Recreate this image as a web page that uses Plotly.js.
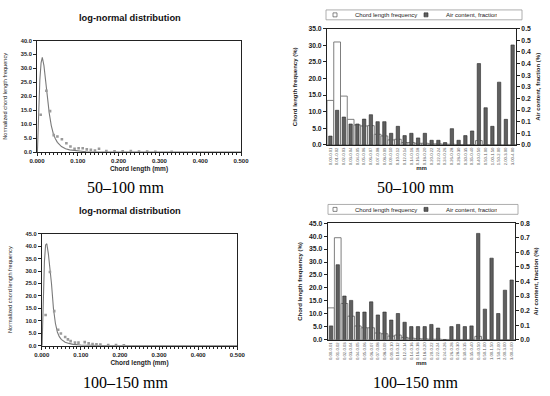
<!DOCTYPE html>
<html><head><meta charset="utf-8">
<script src="https://cdn.plot.ly/plotly-3.0.1.min.js"></script>
<style>html,body{margin:0;padding:0;background:#fff}</style>
</head><body><div id="chart" style="width:550px;height:396px"></div>
<script>
// ---- data ----
const categories = ["0.00-0.01","0.01-0.02","0.02-0.03","0.03-0.04","0.04-0.05","0.05-0.06","0.06-0.07","0.07-0.08","0.08-0.09","0.09-0.10","0.10-0.12","0.12-0.14","0.14-0.16","0.16-0.18","0.18-0.20","0.20-0.22","0.22-0.24","0.24-0.26","0.26-0.28","0.28-0.30","0.30-0.35","0.35-0.40","0.40-0.50","0.50-1.00","1.00-1.50","1.50-2.00","2.00-3.00","3.00-4.00"];
const chordFreq50_100 = [13.4,31.0,14.7,7.7,6.0,5.7,5.8,3.2,2.7,1.5,1.7,0.7,0.7,0.5,0.5,0.3,0.3,0.2,0.2,0.1,0.1,0.1,1.3,0.1,0,0,0,0];
const airContent50_100 = [0.038,0.149,0.12,0.09,0.09,0.111,0.13,0.10,0.10,0.05,0.08,0.04,0.05,0.03,0.05,0.02,0.02,0.01,0.07,0.02,0.04,0.06,0.35,0.16,0.08,0.27,0.11,0.43];
const chordFreq100_150 = [12.3,39.4,14.0,9.1,5.3,4.6,4.6,2.6,2.3,1.4,1.8,0.9,0.6,0.4,0.3,0.2,0.2,0.1,0.1,0.1,0.1,0.1,1.3,0.1,0,0,0,0];
const airContent100_150 = [0.095,0.515,0.30,0.27,0.19,0.19,0.26,0.17,0.19,0.135,0.18,0.12,0.09,0.09,0.09,0.105,0.08,0,0.09,0.105,0.09,0.095,0.73,0.21,0.56,0.18,0.34,0.41];

const fitX = [0.001,0.004,0.007,0.010,0.013,0.017,0.020,0.025,0.030,0.035,0.040,0.045,0.050,0.060,0.070,0.080,0.100,0.120,0.150,0.200,0.300,0.400,0.500];
const fit50_100 = [0,14,26,32,34,31,27,20,14,9.5,6.6,4.8,3.5,2.0,1.2,0.8,0.35,0.15,0.05,0,0,0,0];
const fit100_150 = [0,18,34,40.5,41,37,33,25,15,9,5.5,3.6,2.5,1.4,0.9,0.5,0.2,0.1,0.03,0,0,0,0];

const obsX50_100 = [0.009,0.023,0.032,0.041,0.050,0.061,0.072,0.082,0.092,0.102,0.112,0.122,0.132,0.142,0.152,0.17,0.19,0.21,0.23,0.25,0.27,0.29,0.33];
const obsY50_100 = [13.4,22.0,14.7,6.1,5.6,4.6,3.2,2.0,1.2,1.4,1.4,1.0,0.8,0.6,1.2,0.4,0.3,0.3,0.4,0.2,0.2,0.1,0.1];
const obsX100_150 = [0.010,0.021,0.032,0.042,0.049,0.060,0.067,0.074,0.085,0.094,0.110,0.120,0.130,0.140,0.150,0.170,0.190,0.210];
const obsY100_150 = [12.3,29.6,13.9,6.4,4.9,3.5,2.5,1.8,1.2,1.2,1.4,0.9,0.6,0.5,0.4,0.2,0.2,0.1];

const airTicks50_100 = [0,0.05,0.1,0.15,0.2,0.25,0.3,0.35,0.4,0.45,0.5];
const airTickText50_100 = ["0.0","0.1","0.1","0.2","0.2","0.3","0.3","0.4","0.4","0.5","0.5"];

// ---- styles ----
const F = "Liberation Sans, Arial, sans-serif";
const SERIF = "Liberation Serif, Times New Roman, serif";
const lineCol = "#222";
const fitStyle = {color:"#7a7a7a", width:1.1};
const obsStyle = {symbol:"square", size:2.6, color:"#9a9a9a"};
const whiteBar = {color:"#ffffff", line:{color:"#707070", width:0.9}};
const darkBar = {color:"#5f5f5f", line:{color:"#2a2a2a", width:0.6}};
const whiteKey = {symbol:"square", size:4, color:"#ffffff", line:{color:"#555", width:0.7}};
const darkKey = {symbol:"square", size:4, color:"#5f5f5f", line:{color:"#2a2a2a", width:0.6}};

const traces = [
  {x:fitX, y:fit50_100, type:"scatter", mode:"lines", line:fitStyle, xaxis:"x", yaxis:"y", showlegend:false, name:"log-normal fit"},
  {x:obsX50_100, y:obsY50_100, type:"scatter", mode:"markers", marker:obsStyle, xaxis:"x", yaxis:"y", showlegend:false, name:"measured"},
  {x:fitX, y:fit100_150, type:"scatter", mode:"lines", line:fitStyle, xaxis:"x2", yaxis:"y2", showlegend:false, name:"log-normal fit"},
  {x:obsX100_150, y:obsY100_150, type:"scatter", mode:"markers", marker:obsStyle, xaxis:"x2", yaxis:"y2", showlegend:false, name:"measured"},
  {x:categories, y:chordFreq50_100, type:"bar", width:1.0, marker:whiteBar, xaxis:"x3", yaxis:"y3", name:"Chord length frequency", showlegend:false},
  {x:categories, y:airContent50_100, type:"bar", width:0.5, marker:darkBar, xaxis:"x3", yaxis:"y4", name:"Air content, fraction", showlegend:false},
  {x:categories, y:chordFreq100_150, type:"bar", width:1.0, marker:whiteBar, xaxis:"x4", yaxis:"y5", name:"Chord length frequency", showlegend:false},
  {x:categories, y:airContent100_150, type:"bar", width:0.5, marker:darkBar, xaxis:"x4", yaxis:"y6", name:"Air content, fraction", showlegend:false},
  // legend keys (small square symbols, like the original)
  {x:[null], y:[null], type:"scatter", mode:"markers", marker:whiteKey, xaxis:"x3", yaxis:"y3", name:"Chord length frequency", legend:"legend"},
  {x:[null], y:[null], type:"scatter", mode:"markers", marker:darkKey, xaxis:"x3", yaxis:"y4", name:"Air content, fraction", legend:"legend"},
  {x:[null], y:[null], type:"scatter", mode:"markers", marker:whiteKey, xaxis:"x4", yaxis:"y5", name:"Chord length frequency", legend:"legend2"},
  {x:[null], y:[null], type:"scatter", mode:"markers", marker:darkKey, xaxis:"x4", yaxis:"y6", name:"Air content, fraction", legend:"legend2"}
];

const W = 550, H = 396;
const dx = (a,b)=>[a/W, b/W];
const dy = (top,bot)=>[1-bot/H, 1-top/H];

const tickFontB = (s)=>({family:F, size:s, color:"#222", weight:"bold"});
const titleFont = (s, b)=>({family:F, size:s, color:"#222", weight: b ? "bold" : "normal"});

function lnX(domain, anchor, title, standoff){
  return {domain, anchor, range:[0,0.5], dtick:0.1, tickformat:".3f", showgrid:false, zeroline:false,
    showline:true, linecolor:lineCol, linewidth:1, mirror:true, ticks:"outside", ticklen:3, tickcolor:lineCol,
    minor:{dtick:0.01, ticks:"outside", ticklen:2, tickcolor:lineCol},
    tickfont:tickFontB(6), title:{text:title, font:titleFont(6.5,true), standoff:standoff}};
}
function lnY(domain, anchor, maxv, title, standoff){
  return {domain, anchor, range:[0,maxv], dtick:5, tickformat:".1f", showgrid:false, zeroline:false,
    showline:true, linecolor:lineCol, linewidth:1, mirror:true, ticks:"outside", ticklen:3, tickcolor:lineCol,
    tickfont:tickFontB(5.7), title:{text:title, font:titleFont(5.6,false), standoff:standoff}};
}
function catX(domain, anchor){
  return {domain, anchor, type:"category", tickangle:-90, tickfont:{family:F, size:4.2, color:"#555"},
    showline:true, linecolor:lineCol, linewidth:1, mirror:true, ticks:"", showgrid:false, zeroline:false,
    title:{text:"mm", font:titleFont(6,true), standoff:0}};
}
function barY(domain, anchor, maxv, title, standoff){
  return {domain, anchor, range:[0,maxv], dtick:5, tickformat:".1f", showgrid:false, zeroline:false,
    showline:true, linecolor:lineCol, linewidth:1, ticks:"outside", ticklen:3, tickcolor:lineCol,
    tickfont:tickFontB(6.8), title:{text:title, font:titleFont(6,true), standoff:standoff}};
}
function legendAt(xpx, ypx){
  return {orientation:"h", x:xpx/W, y:1-ypx/H, xanchor:"left", yanchor:"middle",
    borderwidth:0, bgcolor:"rgba(0,0,0,0)", font:{family:F, size:6, color:"#222"},
    entrywidth:46, entrywidthmode:"pixels", itemwidth:30, traceorder:"normal", tracegroupgap:0};
}
function note(text, xpx, ypx, font){
  return {text, x:xpx/W, y:1-ypx/H, xref:"paper", yref:"paper", xanchor:"center", yanchor:"middle", showarrow:false, font};
}

const layout = {
  width:W, height:H, margin:{l:0,r:0,t:0,b:0}, paper_bgcolor:"#fff", plot_bgcolor:"#fff",
  barmode:"overlay", bargap:0, font:{family:F, color:"#222"},
  xaxis: lnX(dx(37,241), "y", "Chord length (mm)", 3),
  yaxis: lnY(dy(36,149), "x", 40, "Normalized chord length frequency", 12),
  xaxis2: lnX(dx(41.7,237.3), "y2", "Chord length (mm)", 3),
  yaxis2: lnY(dy(231.7,345), "x2", 45, "Normalized chord length frequency", 12),
  xaxis3: catX(dx(327,516), "y3"),
  yaxis3: barY(dy(24,141.7), "x3", 35, "Chord length frequency (%)", 10),
  yaxis4: Object.assign(barY(dy(24,141.7), "x3", 0.5, "Air content, fraction (%)", 5),
          {overlaying:"y3", side:"right", tickmode:"array", tickvals:airTicks50_100, ticktext:airTickText50_100}),
  xaxis4: catX(dx(327.7,515), "y5"),
  yaxis5: barY(dy(221,339), "x4", 45, "Chord length frequency (%)", 5),
  yaxis6: Object.assign(barY(dy(221,339), "x4", 0.8, "Air content, fraction (%)", 4),
          {overlaying:"y5", side:"right", dtick:0.1, tickformat:".1f"}),
  legend: legendAt(315, 10),
  legend2: legendAt(315, 207),
  shapes: [
    {type:"rect", xref:"paper", yref:"paper", x0:326/W, x1:522/W, y0:1-15/H, y1:1-5/H, line:{color:"#999", width:0.8}},
    {type:"rect", xref:"paper", yref:"paper", x0:328/W, x1:518/W, y0:1-212/H, y1:1-202/H, line:{color:"#999", width:0.8}}
  ],
  annotations: [
    note("log-normal distribution", 130, 13, {family:F, size:9.3, color:"#111", weight:"bold"}),
    note("log-normal distribution", 130, 209, {family:F, size:9.3, color:"#111", weight:"bold"}),
    note("50–100 mm", 125, 185, {family:SERIF, size:16, color:"#000"}),
    note("50–100 mm", 415, 185, {family:SERIF, size:16, color:"#000"}),
    note("100–150 mm", 125, 382, {family:SERIF, size:16, color:"#000"}),
    note("100–150 mm", 415, 382, {family:SERIF, size:16, color:"#000"})
  ]
};

Plotly.newPlot("chart", traces, layout, {displayModeBar:false, staticPlot:true});
</script></body></html>
